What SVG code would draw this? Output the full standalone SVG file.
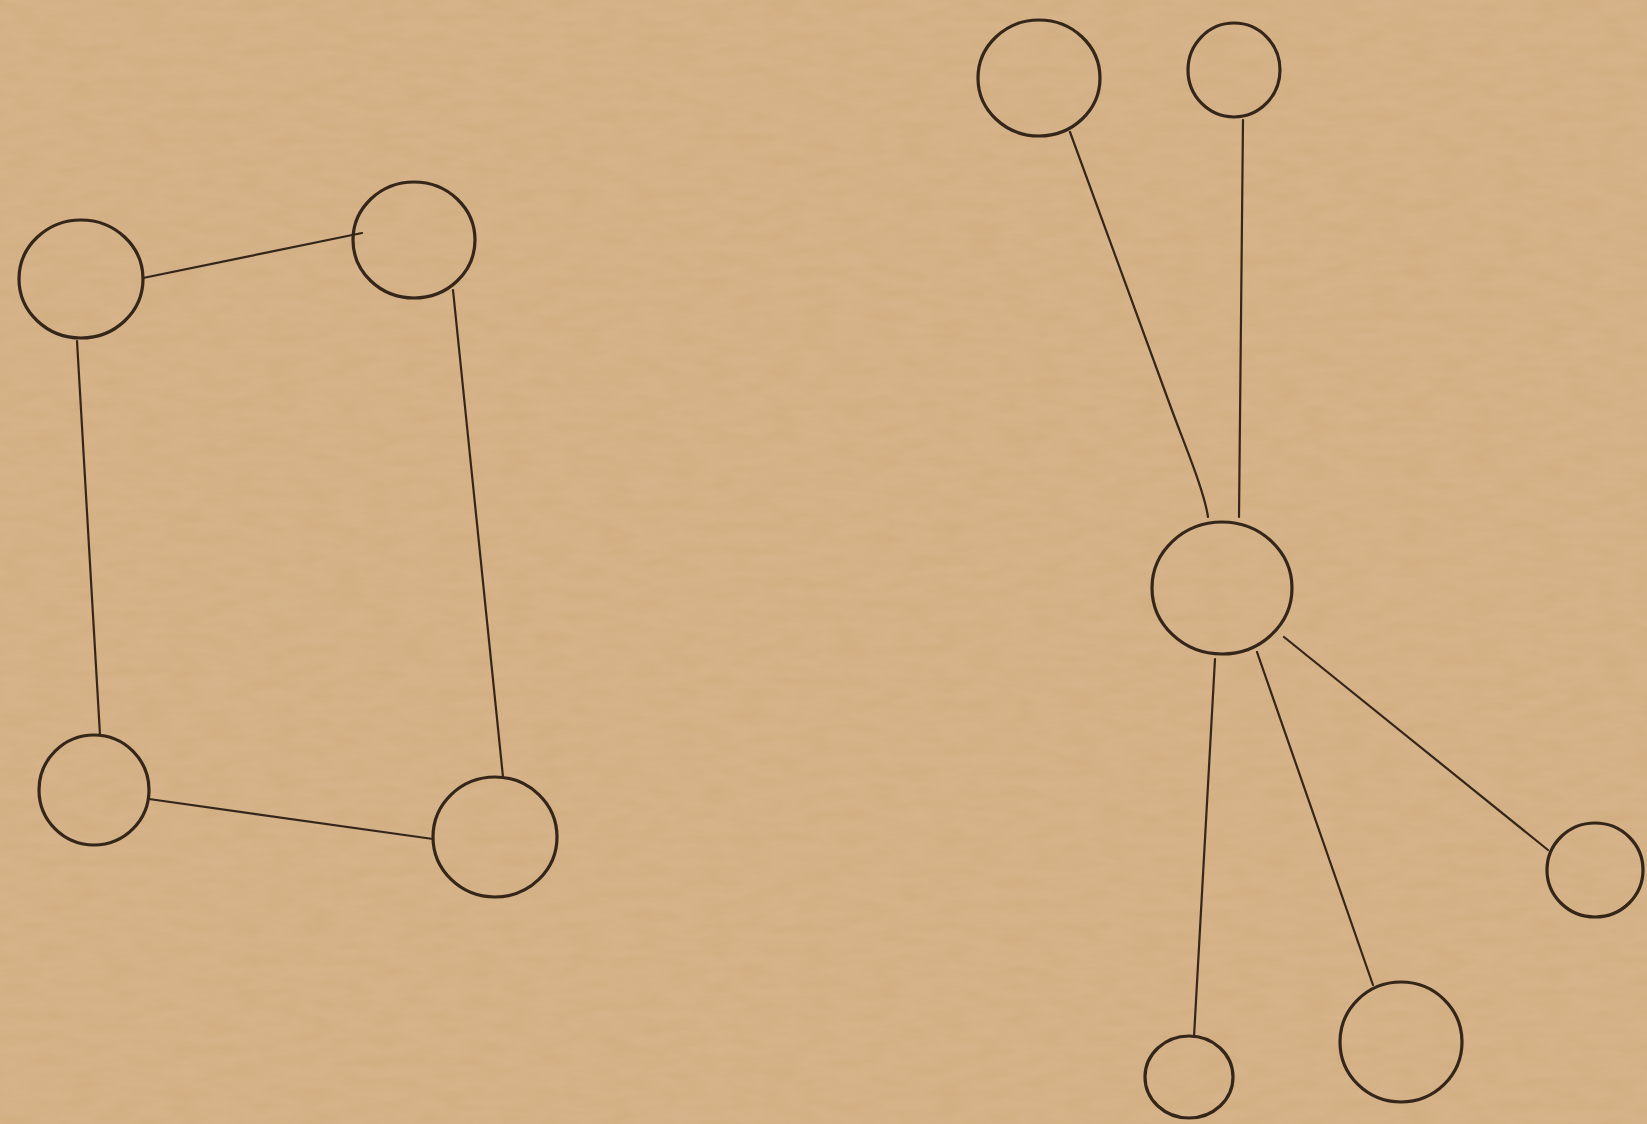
<svg xmlns="http://www.w3.org/2000/svg" width="1647" height="1124" viewBox="0 0 1647 1124">
  <defs>
    <filter id="paper" x="0" y="0" width="100%" height="100%">
      <feTurbulence type="fractalNoise" baseFrequency="0.03 0.09" numOctaves="3" seed="7" result="n"/>
      <feColorMatrix in="n" type="matrix" values="0 0 0 0 0.86  0 0 0 0 0.70  0 0 0 0 0.52  0 0 0 0.18 0"/>
    </filter>
    <style>
      .node { fill: none; stroke: #35261a; stroke-width: 3.2; }
      .edge { fill: none; stroke: #35261a; stroke-width: 2.2; stroke-linecap: round; }
    </style>
  </defs>
  <rect width="1647" height="1124" fill="#d2ad81"/>
  <rect width="1647" height="1124" filter="url(#paper)"/>

  <g id="connectors">
    <path class="edge" d="M143,278 L362,233"/>
    <path class="edge" d="M77,341 L100,735"/>
    <path class="edge" d="M453,290 L503,777"/>
    <path class="edge" d="M149,799 L433,839"/>
    <path class="edge" d="M1070,132 L1170,405 C1185,446 1204,490 1208,517"/>
    <path class="edge" d="M1243,120 L1239,517"/>
    <path class="edge" d="M1284,637 L1548,850"/>
    <path class="edge" d="M1257,652 L1373,985"/>
    <path class="edge" d="M1215,659 L1194,1037"/>
  </g>

  <g id="node-a"><ellipse class="node" cx="81" cy="279" rx="62" ry="59"/></g>
  <g id="node-b"><ellipse class="node" cx="414" cy="240" rx="61" ry="58"/></g>
  <g id="node-c"><ellipse class="node" cx="94" cy="790" rx="55" ry="55"/></g>
  <g id="node-d"><ellipse class="node" cx="495" cy="837" rx="62" ry="60"/></g>

  <g id="node-e"><ellipse class="node" cx="1039" cy="78" rx="61" ry="58"/></g>
  <g id="node-f"><ellipse class="node" cx="1234" cy="70" rx="46" ry="47"/></g>
  <g id="node-g"><ellipse class="node" cx="1222" cy="588" rx="70" ry="66"/></g>
  <g id="node-h"><ellipse class="node" cx="1595" cy="870" rx="48" ry="47"/></g>
  <g id="node-i"><ellipse class="node" cx="1401" cy="1042" rx="61" ry="60"/></g>
  <g id="node-j"><ellipse class="node" cx="1189" cy="1077" rx="44" ry="41"/></g>
</svg>
